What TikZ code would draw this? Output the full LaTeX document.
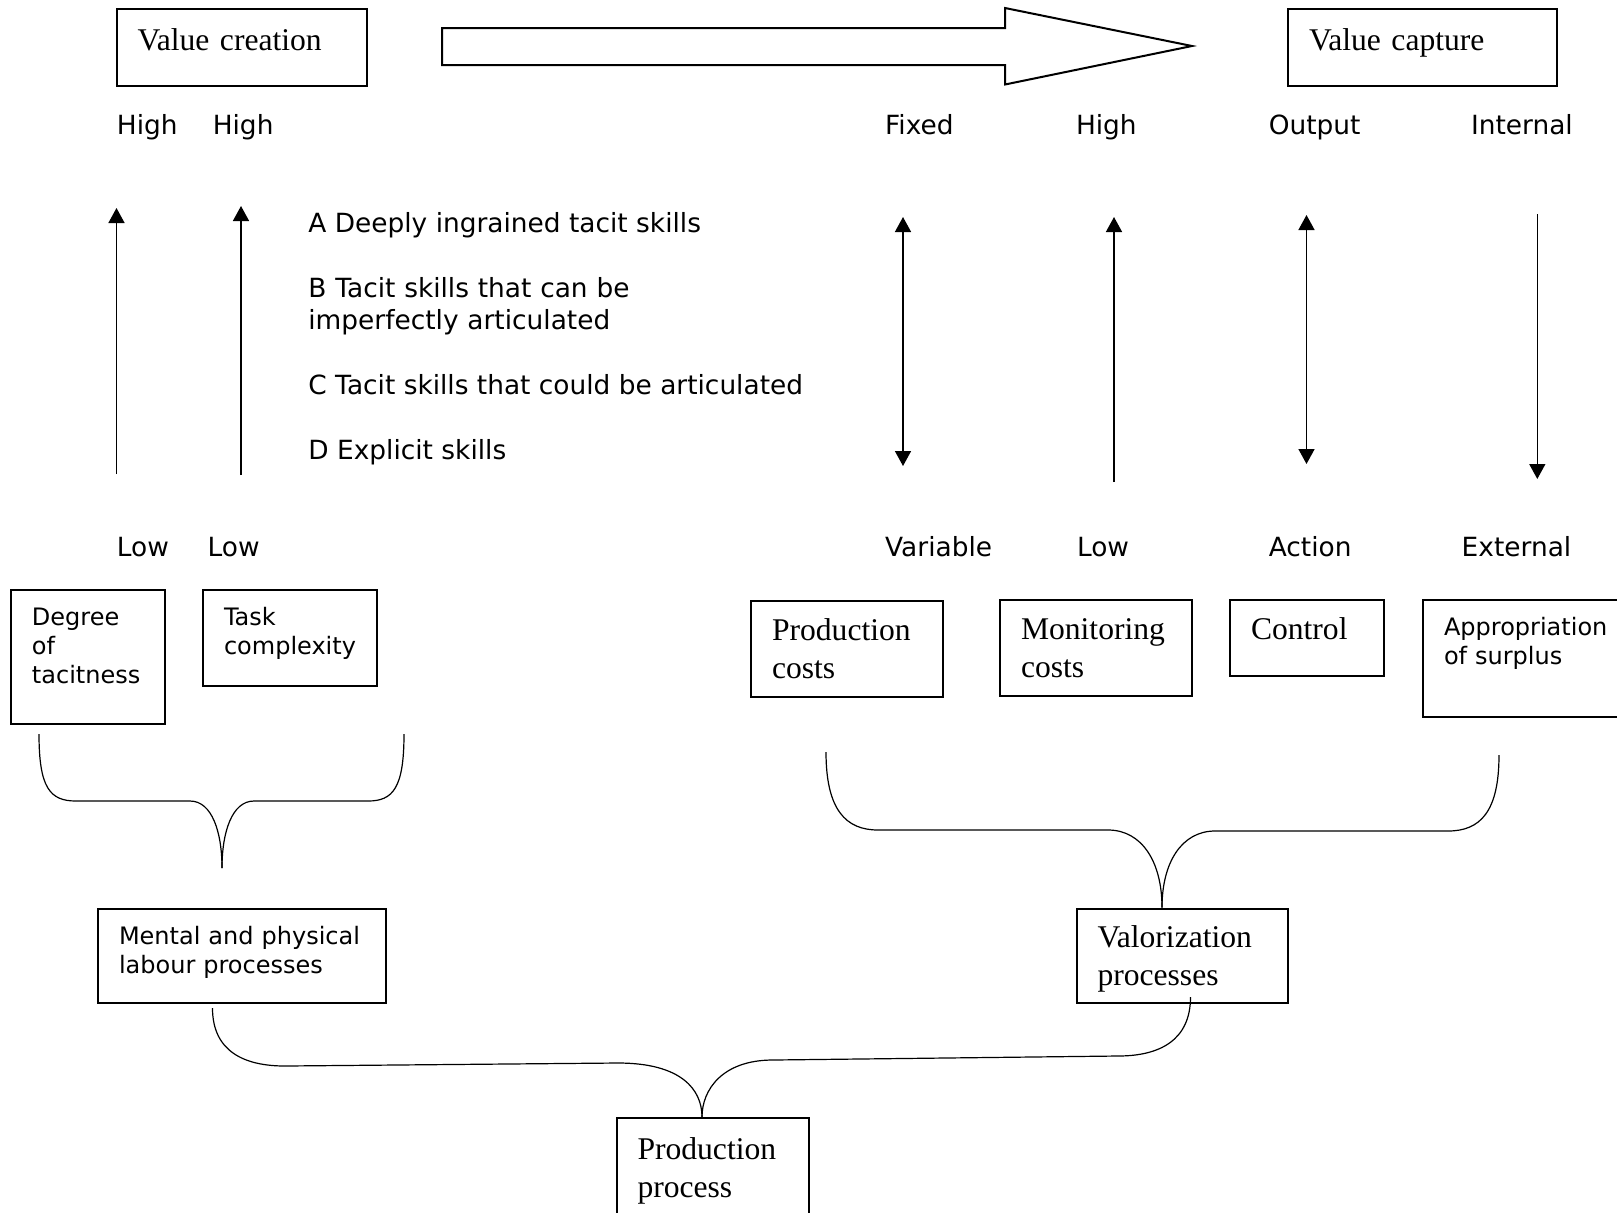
\documentclass[tikz,border=0pt]{standalone}
\usepackage{fontspec}
\setmainfont{Liberation Serif}
\newfontfamily\vsans{DejaVu Sans}
\usetikzlibrary{arrows.meta}

\tikzset{
  box/.style={draw, line width=1pt, anchor=north west, align=left, inner xsep=10.5pt, inner ysep=0pt},
  serif/.style={font=\fontsize{15.8}{19}\selectfont},
  sansbox/.style={font=\vsans\fontsize{12}{14.5}\selectfont},
  lbl/.style={font=\vsans\fontsize{13.2}{16}\selectfont, anchor=base west, inner sep=0pt},
  onehead/.style={line width=0.75pt, -{Triangle[length=7.5pt,width=8pt]}},
  twohead/.style={line width=0.75pt, {Triangle[length=7.5pt,width=8pt]}-{Triangle[length=7.5pt,width=8pt]}},
  brace/.style={line width=0.6pt},
}

\begin{document}
\begin{tikzpicture}[x=0.5pt, y=-0.5pt]
\useasboundingbox (0,0) rectangle (1617,1212);

% top row
\node[box, serif, text width=104.25pt, text height=20.75pt, text depth=17.5pt] (vcr) at (115.5,8) {Value creation};
\node[box, serif, text width=113.5pt, text height=20.75pt, text depth=17.5pt] (vcp) at (1287,8) {Value capture};
\draw[line width=1pt] (442,28) -- (1005,28) -- (1005,8) -- (1192,46) -- (1005,84.5) -- (1005,65) -- (442,65) -- cycle;

% scale labels
\node[lbl] (h1) at (116.5,134) {High};
\node[lbl] (h2) at (212.4,134) {High};
\node[lbl] (fix) at (884.8,134) {Fixed};
\node[lbl] (h3) at (1075.6,134) {High};
\node[lbl] (out) at (1268.4,134) {Output};
\node[lbl] (int) at (1470.6,134) {Internal};

\node[lbl] (l1) at (116.5,556) {Low};
\node[lbl] (l2) at (207.3,556) {Low};
\node[lbl] (var) at (884.8,556) {Variable};
\node[lbl] (l3) at (1076.6,556) {Low};
\node[lbl] (act) at (1268.4,556) {Action};
\node[lbl] (ext) at (1461.3,556) {External};

% skill levels
\node[lbl] (ta) at (308,232) {A Deeply ingrained tacit skills};
\node[lbl, align=left, text width=200pt] (tb) at (308,297) {B Tacit skills that can be\\imperfectly articulated};
\node[lbl] (tc) at (308,394) {C Tacit skills that could be articulated};
\node[lbl] (td) at (308,459) {D Explicit skills};

% vertical scales
\coordinate (a1t) at (116.5,208);  \coordinate (a1b) at (116.5,474);
\coordinate (a2t) at (241,206);    \coordinate (a2b) at (241,475);
\coordinate (a3t) at (903,217);    \coordinate (a3b) at (903,466);
\coordinate (a4t) at (1114,217);   \coordinate (a4b) at (1114,482);
\coordinate (a5t) at (1306.5,215); \coordinate (a5b) at (1306.5,464);
\coordinate (a6t) at (1537.3,214); \coordinate (a6b) at (1537.3,479);
\draw[onehead] (a1b) -- (a1t);
\draw[onehead] (a2b) -- (a2t);
\draw[twohead] (a3b) -- (a3t);
\draw[onehead] (a4b) -- (a4t);
\draw[twohead] (a5b) -- (a5t);
\draw[onehead] (a6t) -- (a6b);

% factor boxes
\node[box, sansbox, text width=56pt, text height=17.5pt, text depth=49.5pt] (deg) at (10,589) {Degree\\of\\tacitness};
\node[box, sansbox, text width=65.75pt, text height=17.5pt, text depth=30.5pt] (tsk) at (202,589) {Task\\complexity};
\node[box, serif, text width=74.75pt, text height=19.75pt, text depth=28.25pt] (pco) at (750,600) {Production\\costs};
\node[box, serif, text width=75pt, text height=19.75pt, text depth=28.25pt] (mco) at (999,599) {Monitoring\\costs};
\node[box, serif, text width=56pt, text height=19.75pt, text depth=18.25pt] (ctl) at (1229,599) {Control};
\node[box, sansbox, text width=89pt, text height=17.5pt, text depth=41pt] (app) at (1422,599) {Appropriation\\of surplus};

% processes
\node[box, sansbox, text width=123pt, text height=17.75pt, text depth=29.5pt] (men) at (97,907.5) {Mental and physical\\labour processes};
\node[box, serif, text width=84.75pt, text height=19.5pt, text depth=27.75pt] (val) at (1075.5,907.5) {Valorization\\processes};
\node[box, serif, text width=75pt, text height=20.5pt, text depth=39.5pt] (pp) at (615.5,1117) {Production\\process};

% braces
\coordinate (c1) at (222,868);
\coordinate (c2) at (1162,907.5);
\coordinate (c3) at (702,1117);
\draw[brace] (39,734) .. controls (39,788) and (50,801) .. (76,801) -- (190,801) .. controls (212,801) and (222,832) .. (c1);
\draw[brace] (404,734) .. controls (404,788) and (393,801) .. (368,801) -- (254,801) .. controls (232,801) and (222,832) .. (c1);
\draw[brace] (826,752) .. controls (826,810) and (846,830) .. (878,830) -- (1108,830) .. controls (1142,830) and (1162,862) .. (c2);
\draw[brace] (1499,755) .. controls (1499,812) and (1480,831) .. (1448,831) -- (1215,831) .. controls (1182,831) and (1162,862) .. (c2);
\draw[brace] (212.5,1008) .. controls (212.5,1052) and (245,1066) .. (285,1066) -- (618,1063) .. controls (682,1063) and (702,1090) .. (c3);
\draw[brace] (1190.5,997) .. controls (1190.5,1040) and (1160,1056) .. (1118,1056) -- (773,1060) .. controls (722,1060) and (702,1090) .. (c3);
\end{tikzpicture}
\end{document}
